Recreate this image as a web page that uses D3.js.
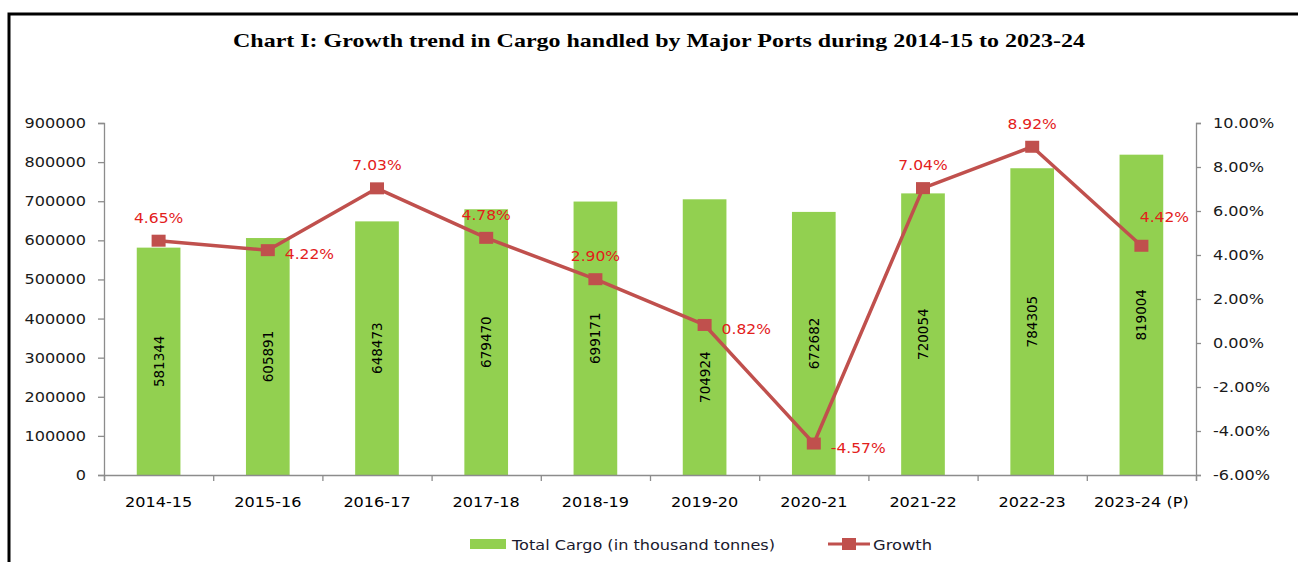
<!DOCTYPE html>
<html>
<head>
<meta charset="utf-8">
<script src="https://cdn.jsdelivr.net/npm/d3@7"></script>
<style>
  html, body { margin: 0; padding: 0; background: #fff; }
  svg { display: block; }
</style>
</head>
<body>
<svg id="chart" width="1298" height="562"></svg>
<script>
// ---- Data ----
const categories = ["2014-15", "2015-16", "2016-17", "2017-18", "2018-19", "2019-20", "2020-21", "2021-22", "2022-23", "2023-24 (P)"];
const totalCargo = [581344, 605891, 648473, 679470, 699171, 704924, 672682, 720054, 784305, 819004];
const growth = [4.65, 4.22, 7.03, 4.78, 2.90, 0.82, -4.57, 7.04, 8.92, 4.42];
const leftTicks = [0, 100000, 200000, 300000, 400000, 500000, 600000, 700000, 800000, 900000];
const rightTicks = [-6, -4, -2, 0, 2, 4, 6, 8, 10];
const titleText = "Chart I: Growth trend in Cargo handled by Major Ports during 2014-15 to 2023-24";
const seriesNames = ["Total Cargo (in thousand tonnes)", "Growth"];

// ---- Layout ----
const svg = d3.select("#chart");
const L = 104, R = 1196, T = 123, B = 475;
const SX = 1.15; // horizontal stretch of the reference text
const font = "'DejaVu Sans', Verdana, sans-serif";
const barColor = "#92D050", lineColor = "#C0504D", labelRed = "#E3201B", axisColor = "#8C8C8C";
const pct = d => d3.format(".2f")(d).replace("\u2212", "-") + "%";

const x = d3.scaleBand().domain(categories).range([L, R]).paddingInner(0.6).paddingOuter(0.3);
const yL = d3.scaleLinear().domain([0, 900000]).range([B, T]);
const yR = d3.scaleLinear().domain([-6, 10]).range([B, T]);
const bounds = d3.scaleLinear().domain([0, categories.length]).range([L, R]);

// frame
svg.append("path")
  .attr("d", `M9,562 L9,14 L1298,14`)
  .attr("fill", "none").attr("stroke", "#000").attr("stroke-width", 3);

// title
svg.append("text")
  .attr("x", 659).attr("y", 47)
  .attr("text-anchor", "middle")
  .attr("font-family", "'Liberation Serif', 'Times New Roman', serif")
  .attr("font-weight", "bold").attr("font-size", 19)
  .attr("textLength", 852).attr("lengthAdjust", "spacingAndGlyphs")
  .attr("fill", "#000")
  .text(titleText);

// bars
svg.append("g").selectAll("rect").data(categories).join("rect")
  .attr("x", d => x(d))
  .attr("width", x.bandwidth())
  .attr("y", (d, i) => yL(totalCargo[i]))
  .attr("height", (d, i) => yL(0) - yL(totalCargo[i]))
  .attr("fill", barColor);

// bar value labels (rotated, centred in bar)
const barLabelShift = { "2019-20": 40 };
svg.append("g").selectAll("text").data(categories).join("text")
  .attr("transform", (d, i) => {
    const cx = x(d) + x.bandwidth() / 2;
    const cy = (yL(totalCargo[i]) + yL(0)) / 2 + (barLabelShift[d] || 0);
    return `translate(${cx + 5},${cy}) rotate(-90)`;
  })
  .attr("text-anchor", "middle")
  .attr("font-family", font).attr("font-size", 13.5)
  .attr("fill", "#000")
  .text((d, i) => totalCargo[i]);

// axes
const styleAxis = g => {
  g.select(".domain").attr("stroke", axisColor).attr("stroke-width", 1.3);
  g.selectAll(".tick line").attr("stroke", axisColor).attr("stroke-width", 1.3);
};

const gL = svg.append("g").attr("transform", `translate(${L},0)`)
  .call(d3.axisLeft(yL).tickValues(leftTicks).tickSize(6).tickPadding(12).tickFormat(d3.format("d")))
  .call(styleAxis);
gL.selectAll(".tick text")
  .attr("x", -18 / SX).attr("transform", `scale(${SX},1)`)
  .attr("font-family", font).attr("font-size", 14).attr("fill", "#1a1a1a");

const gR = svg.append("g").attr("transform", `translate(${R},0)`)
  .call(d3.axisRight(yR).tickValues(rightTicks).tickSize(5).tickPadding(12).tickFormat(pct))
  .call(styleAxis);
gR.selectAll(".tick text")
  .attr("x", 17 / SX).attr("transform", `scale(${SX},1)`)
  .attr("font-family", font).attr("font-size", 14).attr("fill", "#1a1a1a");

svg.append("g").attr("transform", `translate(0,${B})`)
  .call(d3.axisBottom(bounds).tickValues(d3.range(categories.length + 1)).tickSize(6).tickFormat(""))
  .call(styleAxis);

const gBL = svg.append("g").attr("transform", `translate(0,${B})`)
  .call(d3.axisBottom(x).tickSize(0).tickPadding(22));
gBL.select(".domain").remove();
gBL.selectAll(".tick text")
  .attr("transform", `scale(${SX},1)`)
  .attr("font-family", font).attr("font-size", 14).attr("fill", "#000");

// growth line
const px = d => x(d) + x.bandwidth() / 2;
svg.append("path")
  .datum(categories)
  .attr("d", d3.line().x(d => px(d)).y((d, i) => yR(growth[i])))
  .attr("fill", "none").attr("stroke", lineColor).attr("stroke-width", 3.5)
  .attr("stroke-linejoin", "round");

svg.append("g").selectAll("rect").data(categories).join("rect")
  .attr("x", d => px(d) - 7).attr("y", (d, i) => yR(growth[i]) - 6)
  .attr("width", 14).attr("height", 12)
  .attr("fill", lineColor);

// growth labels
const placement = ["above", "right", "above", "above", "above", "right", "right", "above", "above", "aboveRight"];
svg.append("g").selectAll("text").data(categories).join("text")
  .attr("transform", (d, i) => {
    const cx = px(d), cy = yR(growth[i]);
    const p = placement[i];
    if (p === "above") return `translate(${cx},${cy - 18}) scale(${SX},1)`;
    if (p === "right") return `translate(${cx + 17},${cy + 9}) scale(${SX},1)`;
    return `translate(${cx + 23},${cy - 24}) scale(${SX},1)`;
  })
  .attr("text-anchor", (d, i) => placement[i] === "right" ? "start" : "middle")
  .attr("font-family", font).attr("font-size", 13.5)
  .attr("fill", labelRed)
  .text((d, i) => pct(growth[i]));

// legend
const lg = svg.append("g");
lg.append("rect").attr("x", 470).attr("y", 539).attr("width", 36).attr("height", 10).attr("fill", barColor);
lg.append("text").attr("transform", "translate(512,549.5)")
  .attr("font-family", font).attr("font-size", 13.5).attr("fill", "#1a1a2e")
  .attr("textLength", 263).attr("lengthAdjust", "spacingAndGlyphs")
  .text(seriesNames[0]);
lg.append("line").attr("x1", 828).attr("x2", 870).attr("y1", 544).attr("y2", 544)
  .attr("stroke", lineColor).attr("stroke-width", 3);
lg.append("rect").attr("x", 842).attr("y", 538).attr("width", 14).attr("height", 12).attr("fill", lineColor);
lg.append("text").attr("transform", "translate(873,549.5)")
  .attr("font-family", font).attr("font-size", 13.5).attr("fill", "#1a1a2e")
  .attr("textLength", 59).attr("lengthAdjust", "spacingAndGlyphs")
  .text(seriesNames[1]);
</script>
</body>
</html>
